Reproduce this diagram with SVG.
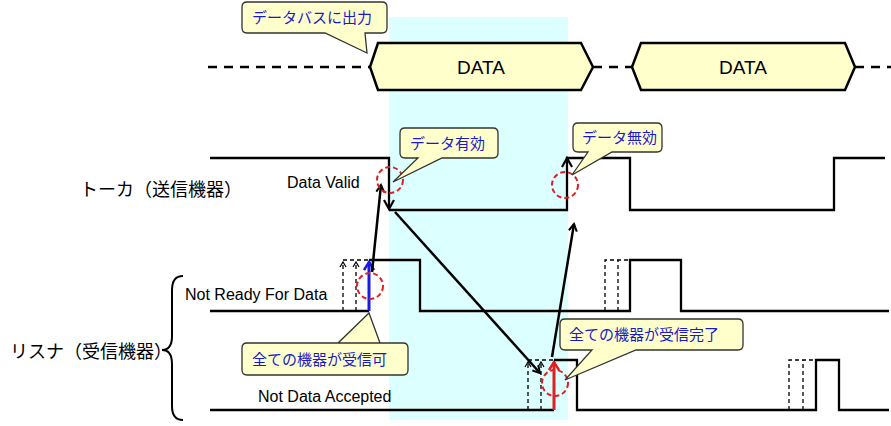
<svg xmlns="http://www.w3.org/2000/svg" width="891" height="426" viewBox="0 0 891 426">
<style>
.sig{fill:none;stroke:#000;stroke-width:2.3}
.dsh{fill:none;stroke:#000;stroke-width:1.3;stroke-dasharray:4,3}
.da{fill:none;stroke:#000;stroke-width:1.3;stroke-dasharray:4,3;marker-end:url(#ahs)}
.bus{fill:none;stroke:#000;stroke-width:2.5;stroke-dasharray:9,7}
.hex{fill:#ffffcc;stroke:#000;stroke-width:2.5}
.call{fill:#ffffcc;stroke:#333;stroke-width:1.3}
.ct{font-family:"Noto Sans CJK JP",sans-serif;font-size:15px;fill:#1a1acc}
.lb{font-family:"Liberation Sans",Arial,sans-serif;font-size:16px;fill:#000}
.dt{font-family:"Liberation Sans",Arial,sans-serif;font-size:19px;fill:#000}
.jp{font-family:"Noto Sans CJK JP",sans-serif;font-size:18px;fill:#000}
.circ{fill:none;stroke:#e02020;stroke-width:2;stroke-dasharray:5,3}
.arr{stroke:#000;stroke-width:2.5;fill:none;marker-end:url(#ah)}
</style>
<defs>
<marker id="ah" markerWidth="10" markerHeight="10" refX="8" refY="5" orient="auto" markerUnits="userSpaceOnUse"><path d="M1,1 L8,5 L1,9" fill="none" stroke="#000" stroke-width="2"/></marker>
<marker id="ahs" markerWidth="8" markerHeight="8" refX="6" refY="4" orient="auto" markerUnits="userSpaceOnUse"><path d="M1,1 L6,4 L1,7" fill="none" stroke="#000" stroke-width="1.2"/></marker>
<marker id="ahb" markerWidth="12" markerHeight="12" refX="9" refY="6" orient="auto" markerUnits="userSpaceOnUse"><path d="M1,1 L9,6 L1,11" fill="none" stroke="#1a1ae0" stroke-width="2.5"/></marker>
<marker id="ahr" markerWidth="12" markerHeight="12" refX="9" refY="6" orient="auto" markerUnits="userSpaceOnUse"><path d="M1,1 L9,6 L1,11" fill="none" stroke="#e02020" stroke-width="2.5"/></marker>
</defs>
<rect width="891" height="426" fill="#fff"/>
<rect x="389" y="17" width="179" height="403" fill="#dcffff"/>

<g id="bus">
<path class="bus" d="M208,67 H370 M593,67 H632 M855,67 H891"/>
<polygon class="hex" points="370,67 378,43 581,43 593,67 581,90 378,90"/>
<text class="dt" x="481" y="74" text-anchor="middle">DATA</text>
<polygon class="hex" points="632,67 641,43 845,43 855,67 845,90 641,90"/>
<text class="dt" x="743" y="74" text-anchor="middle">DATA</text>
</g>

<g id="labels">
<text class="jp" x="80" y="196">トーカ（送信機器）</text>
<text class="jp" x="10" y="358">リスナ（受信機器）</text>
<path d="M183,276 Q172,276 172,290 V336 Q172,350 162,350 Q172,350 172,364 V406 Q172,420 183,420" fill="none" stroke="#000" stroke-width="2"/>
<text class="lb" x="287" y="188">Data Valid</text>
<text class="lb" x="185" y="300">Not Ready For Data</text>
<text class="lb" x="258" y="402">Not Data Accepted</text>
</g>

<g id="talker">
<path class="sig" d="M210,158 H389 V208"/>
<path d="M384,200 L389,209 L394,200" fill="none" stroke="#000" stroke-width="2.2"/>
<path class="sig" d="M389,210 H567 V158 H630 V210 H834 V158 H885"/>
<path d="M562,167 L567,158 L572,167" fill="none" stroke="#000" stroke-width="2.2"/>
</g>

<g id="notready">
<path class="sig" d="M210,311 H369"/>
<path d="M369,311 V262" stroke="#1a1ae0" stroke-width="3" marker-end="url(#ahb)"/>
<path class="sig" d="M369,260 H420 V311 H630 V260 H681 V311 H889"/>
<path class="da" d="M343,311 V262"/>
<path class="da" d="M356,311 V262"/>
<path class="dsh" d="M343,260 H369 M605,311 V260 H630 M618,311 V260"/>
</g>

<g id="accepted">
<path class="sig" d="M210,410 H554"/>
<path d="M554,410 V362" stroke="#e02020" stroke-width="3" marker-end="url(#ahr)"/>
<path class="sig" d="M554,360 H577 V410 H816 V360 H839 V410 H889"/>
<path class="da" d="M528,410 V362"/>
<path class="da" d="M541,410 V362"/>
<path class="dsh" d="M528,360 H554 M789,410 V360 H816 M803,410 V360"/>
</g>

<g id="connectors">
<line class="arr" x1="372" y1="272" x2="381" y2="185"/>
<line class="arr" x1="395" y1="212" x2="540" y2="373"/>
<line class="arr" x1="552" y1="357" x2="574" y2="224"/>
</g>

<g id="circles">
<circle class="circ" cx="390" cy="180" r="13"/>
<circle class="circ" cx="565" cy="185" r="13"/>
<circle class="circ" cx="370" cy="286" r="13"/>
<circle class="circ" cx="555" cy="383" r="13"/>
</g>

<g id="callout1">
<path class="call" d="M247,2 H382 Q387,2 387,7 V28 Q387,33 382,33 H365 L367,53 L325,33 H247 Q242,33 242,28 V7 Q242,2 247,2 Z"/>
<text class="ct" x="252" y="23">データバスに出力</text>
</g>
<g id="callout2">
<path class="call" d="M405,128 H493 Q498,128 498,133 V153 Q498,158 493,158 H442 L393,182 L418,158 H405 Q400,158 400,153 V133 Q400,128 405,128 Z"/>
<text class="ct" x="410" y="149">データ有効</text>
</g>
<g id="callout3">
<path class="call" d="M578,123 H657 Q662,123 662,128 V147 Q662,152 657,152 H612 L572,175 L588,152 H578 Q573,152 573,147 V128 Q573,123 578,123 Z"/>
<text class="ct" x="582" y="143">データ無効</text>
</g>
<g id="callout4">
<path class="call" d="M247,343 H403 Q408,343 408,348 V370 Q408,375 403,375 H247 Q242,375 242,370 V348 Q242,343 247,343 H338 L369,313 L380,343"/>
<text class="ct" x="252" y="365">全ての機器が受信可</text>
</g>
<g id="callout5">
<path class="call" d="M565,319 H738 Q743,319 743,324 V345 Q743,350 738,350 H636 L565,380 L592,350 H565 Q560,350 560,345 V324 Q560,319 565,319 Z"/>
<text class="ct" x="569" y="340">全ての機器が受信完了</text>
</g>
</svg>
